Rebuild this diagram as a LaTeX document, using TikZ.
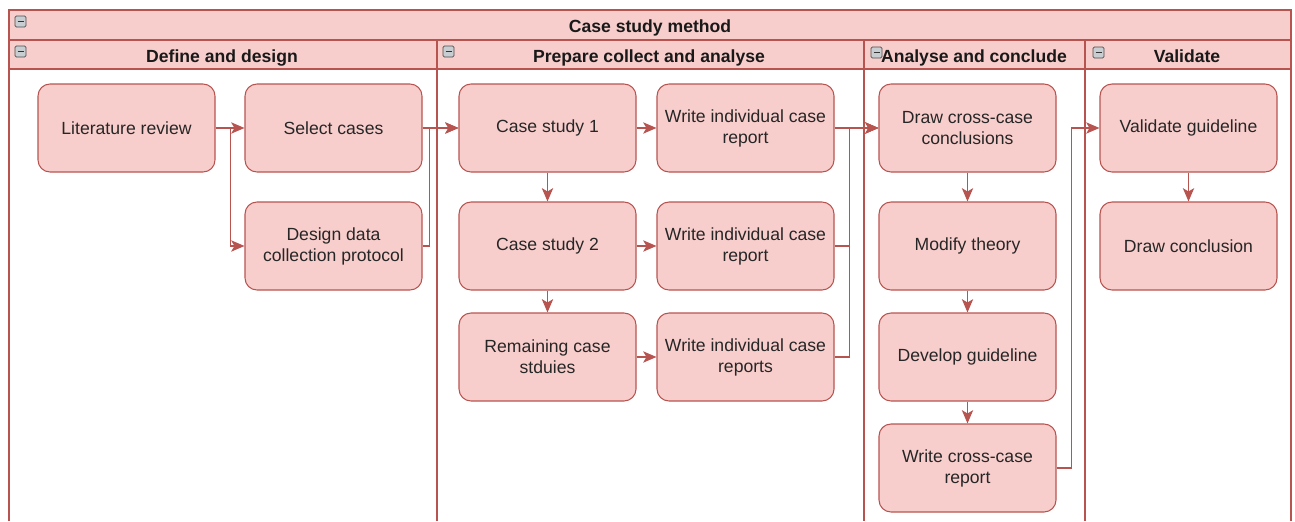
\documentclass[tikz,border=0pt]{standalone}
\usepackage{fontspec}
\setmainfont{Liberation Sans}
\usetikzlibrary{arrows.meta}
\definecolor{boxfill}{HTML}{F8CECC}
\definecolor{boxline}{HTML}{B85450}
\definecolor{icongray}{HTML}{C8CDD2}
\tikzset{
  proc/.style={draw=boxline, fill=boxfill, rounded corners=9pt, line width=0.8pt,
    minimum width=132.75pt, minimum height=66pt, inner sep=0pt, align=center,
    font=\fontsize{13.2}{15.8}\selectfont, text=black!85},
  conn/.style={draw=boxline, line width=0.8pt, -{Stealth[length=10pt,width=8.5pt,inset=2.5pt]}},
  frame/.style={draw=boxline, line width=0.8pt},
  hdr/.style={font=\bfseries\fontsize{13.2}{15.8}\selectfont, text=black!90, inner sep=0pt, anchor=base},
  minusicon/.pic={
    \draw[draw=gray!60!black, fill=icongray, rounded corners=1pt, line width=0.5pt] (0,0) rectangle (11,11);
    \draw[line width=1.2pt, black!80] (2.5,5.5) -- (8.5,5.5);
  }
}
\begin{document}
\begin{tikzpicture}[x=0.75pt, y=-0.75pt]
\useasboundingbox (0,0) rectangle (1295,521);
% headers
\fill[boxfill] (9,10) rectangle (1291,69);
\draw[frame] (9,521) -- (9,10) -- (1291,10) -- (1291,521);
\draw[frame] (9,40) -- (1291,40);
\draw[frame] (9,69) -- (1291,69);
\draw[frame] (437,40) -- (437,521);
\draw[frame] (864,40) -- (864,521);
\draw[frame] (1085,40) -- (1085,521);
\node[hdr] (title) at (650,32.5) {Case study method};
\node[hdr] (h1) at (222,62) {Define and design};
\node[hdr] (h2) at (649,62) {Prepare collect and analyse};
\node[hdr] (h3) at (974,62) {Analyse and conclude};
\node[hdr] (h4) at (1187,62) {Validate};
\pic at (15,16) {minusicon};
\pic at (15,46) {minusicon};
\pic at (443,46) {minusicon};
\pic at (871,47) {minusicon};
\pic at (1093,47) {minusicon};
% nodes
\node[proc] (lit) at (126.5,128) {Literature review};
\node[proc] (sel) at (333.5,128) {Select cases};
\node[proc] (des) at (333.5,246) {Design data\\collection protocol};
\node[proc] (cs1) at (547.5,128) {Case study 1};
\node[proc] (cs2) at (547.5,246) {Case study 2};
\node[proc] (rem) at (547.5,357) {Remaining case\\stduies};
\node[proc] (w1) at (745.5,128) {Write individual case\\report};
\node[proc] (w2) at (745.5,246) {Write individual case\\report};
\node[proc] (w3) at (745.5,357) {Write individual case\\reports};
\node[proc] (dcc) at (967.5,128) {Draw cross-case\\conclusions};
\node[proc] (mod) at (967.5,246) {Modify theory};
\node[proc] (dev) at (967.5,357) {Develop guideline};
\node[proc] (wcr) at (967.5,468) {Write cross-case\\report};
\node[proc] (val) at (1188.5,128) {Validate guideline};
\node[proc] (dcl) at (1188.5,246) {Draw conclusion};
% connectors
\draw[conn] (lit.east) -- (sel.west);
\draw[conn] (lit.east) -- ++(15,0) |- (des.west);
\draw[conn] (sel.east) -- (cs1.west);
\draw[conn] (des.east) -- ++(7,0) |- (cs1.west);
\draw[conn] (cs1.south) -- (cs2.north);
\draw[conn] (cs2.south) -- (rem.north);
\draw[conn] (cs1.east) -- (w1.west);
\draw[conn] (cs2.east) -- (w2.west);
\draw[conn] (rem.east) -- (w3.west);
\draw[conn] (w1.east) -- (dcc.west);
\draw[conn] (w2.east) -- ++(15,0) |- (dcc.west);
\draw[conn] (w3.east) -- ++(15,0) |- (dcc.west);
\draw[conn] (dcc.south) -- (mod.north);
\draw[conn] (mod.south) -- (dev.north);
\draw[conn] (dev.south) -- (wcr.north);
\draw[conn] (wcr.east) -- ++(15,0) |- (val.west);
\draw[conn] (val.south) -- (dcl.north);
\end{tikzpicture}
\end{document}
